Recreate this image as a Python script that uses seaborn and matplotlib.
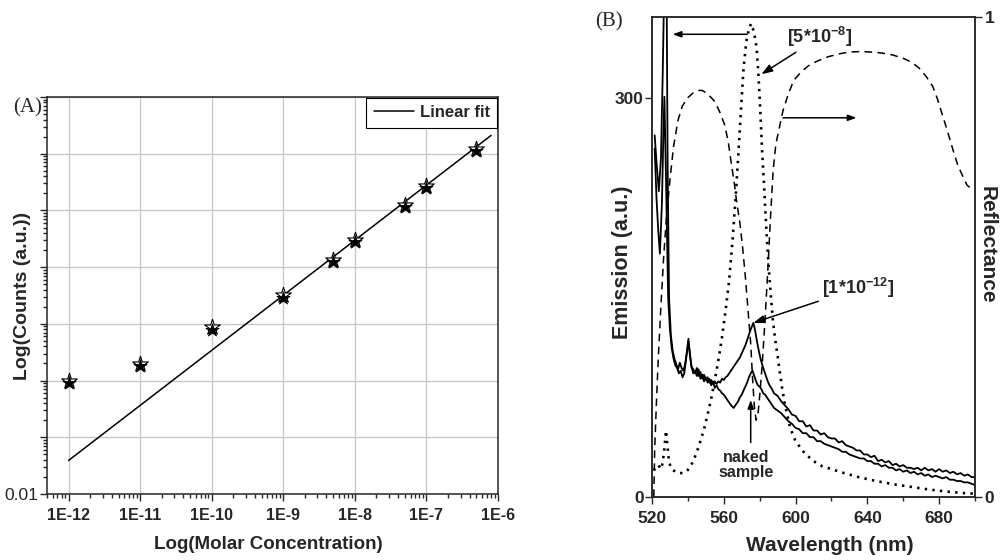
import numpy as np
import pandas as pd
import matplotlib
matplotlib.use("Agg")
import matplotlib.pyplot as plt
import matplotlib.ticker as mticker
from matplotlib.lines import Line2D
from matplotlib.transforms import offset_copy
import seaborn as sns

# ---- panel A: log-log kalibrering ----
conc = [1e-12, 1e-11, 1e-10, 1e-9, 5e-9, 1e-8, 5e-8, 1e-7, 5e-7]
counts = [1.0, 1.96, 8.7, 32, 136, 302, 1270, 2700, 12300]
fit_conc = [1e-12, 8e-7]
fit_counts = [0.039, 21000]
conc_ticks = [1e-12, 1e-11, 1e-10, 1e-9, 1e-8, 1e-7, 1e-6]

# ---- panel B: spektra ----
wl_low = [521.5, 522.5, 523.8, 525, 526, 527, 528, 528.7, 529.5, 530.5, 531.5, 532.5, 533.5,
          534.5, 535.5, 536.5, 537.5, 538.5, 539.3, 540.3, 541.2, 542, 543, 544, 545, 546, 547,
          548, 549, 550, 551, 552, 553, 554, 555, 556, 557, 558, 559, 560, 561, 562, 563, 564,
          565, 566, 567, 568, 569, 570, 571, 572, 573, 574, 575, 576.5, 577.5, 578.5, 579.5,
          580.5, 581.5, 582.5, 583.5, 584.5, 585.5, 586.5, 588,
          590, 592, 594, 596, 598, 600, 602, 604, 606, 608, 610, 612, 614, 616, 618, 620, 622,
          624, 626, 628, 630, 632, 634, 636, 638, 640, 642, 644, 646, 648, 650, 652, 654, 656,
          658, 660, 662, 664, 666, 668, 670, 672, 674, 676, 678, 680, 682, 684, 686, 688, 690,
          692, 694, 696, 698, 700]
em_low = [272, 252, 230, 255, 320, 400, 420, 250, 150, 122, 110, 104, 100,
          96, 101, 97, 95, 100, 108, 119, 106, 98, 96, 93, 97, 91, 94,
          89, 92, 88, 90, 86, 88, 85, 87, 85, 87, 86, 89, 88, 90, 91, 93, 95,
          97, 99, 101, 103, 105, 108, 111, 114, 118, 122, 126, 131, 125, 117, 110,
          104, 99, 95, 91, 87, 84, 82, 78,
          76, 72, 69, 66, 62, 61, 57, 57, 53, 54, 50, 50, 47, 48, 45, 44, 44,
          41, 42, 39, 38, 37, 35, 35, 32, 32, 30, 31, 27, 28, 26, 27, 24, 25,
          23, 24, 22, 22, 21, 22, 20, 22, 20, 21, 19, 21, 19, 20, 18, 19, 17,
          18, 16, 17, 15, 15]

wl_naked = [521.5, 522.5, 523.5, 524.4, 525.5, 526.3, 526.9, 527.8, 529, 530, 531, 532, 533,
            534, 535, 536, 537, 538, 539, 540.3, 541.2, 542, 543, 544, 545, 546, 547, 548,
            549, 550, 551, 552, 553, 554, 555, 556, 557, 558, 559, 560, 561, 562, 563, 564,
            565.5, 567, 568, 569, 570, 571, 572, 573, 574, 575, 576, 577, 578, 579, 580, 581,
            582, 583, 584, 585, 586, 587, 588,
            590, 592, 594, 596, 598, 600, 602, 604, 606, 608, 610, 612, 614, 616, 618, 620, 622,
            624, 626, 628, 630, 632, 634, 636, 638, 640, 642, 644, 646, 648, 650, 652, 654, 656,
            658, 660, 662, 664, 666, 668, 670, 672, 674, 676, 678, 680, 682, 684, 686, 688, 690,
            692, 694, 696, 698, 700]
em_naked = [262, 225, 200, 183, 220, 270, 301, 240, 150, 126, 112, 104, 99,
            97, 93, 95, 90, 93, 104, 117, 107, 98, 93, 95, 91, 96, 89, 92,
            87, 90, 86, 89, 84, 87, 82, 84, 81, 80, 78, 77, 75, 73, 71, 69,
            67, 70, 72, 75, 77, 80, 83, 86, 90, 93, 95, 91, 87, 84, 83, 81,
            78, 77, 75, 73, 71, 69, 67,
            65, 63, 60, 57, 55, 52, 51, 48, 48, 45, 45, 42, 42, 40, 39, 38, 37,
            36, 34, 34, 32, 31, 30, 29, 29, 27, 27, 25, 25, 23, 24, 22, 22, 20,
            21, 19, 20, 18, 19, 17, 18, 16, 17, 15, 16, 15, 14, 15, 13, 13, 12,
            12, 11, 11, 10, 9]

wl_high = [521, 522, 523, 524, 525, 526, 527, 527.8, 528.5, 529.5, 531, 533, 535, 537, 539,
           541, 543, 545, 547, 549, 551, 553, 555, 557, 559, 561, 563, 565, 567, 569, 571,
           572.5, 574, 575.2, 576.3, 577.3, 578.3, 579.3, 580.3, 581.3, 582.3, 583.3, 584.3,
           585.3, 586.3, 587.3, 588.5, 589.8, 591, 592.5, 594, 597, 600, 605, 610, 615, 620,
           627, 635, 645, 655, 665, 675, 685, 693, 700]
em_high = [20, 22, 24, 23, 21, 26, 38, 50, 40, 26, 21, 19, 18, 18, 19,
           22, 27, 34, 42, 51, 62, 74, 88, 103, 120, 140, 163, 195, 233, 278, 322,
           342, 352, 356, 352, 346, 338, 318, 292, 262, 238, 212, 188,
           168, 150, 134, 120, 108, 96, 82, 70, 52, 42, 33, 27, 23, 21,
           18, 15, 12, 9.5, 7.5, 5.5, 4, 3, 2.5]

wl_refl = [521, 521.5, 522.5, 523.5, 525, 526.5, 528, 530, 532, 534.5, 537, 540, 543, 546, 548,
           551, 555, 558, 560.5, 562.5, 564, 566, 567, 569, 570.5, 572, 573.5, 575, 576, 577,
           578, 579, 580, 581.5, 583, 584.5, 586, 587.5, 589, 591, 593, 596, 599, 603, 607,
           612, 618, 624, 630, 636, 642, 648, 654, 660, 665, 669, 673, 676.5, 679, 681.5,
           684, 686, 688, 690.5, 693, 695.5, 697]
refl = [0.0, 0.10, 0.20, 0.29, 0.40, 0.50, 0.58, 0.66, 0.73, 0.785, 0.815, 0.832, 0.842, 0.847,
        0.847, 0.840, 0.824, 0.80, 0.775, 0.74, 0.70, 0.65, 0.62, 0.57, 0.52, 0.46, 0.39, 0.32,
        0.25, 0.19, 0.16, 0.17, 0.21, 0.28, 0.37, 0.47, 0.58, 0.68, 0.735, 0.77, 0.805, 0.84,
        0.868, 0.885, 0.898, 0.908, 0.917, 0.923, 0.927, 0.928, 0.927, 0.925, 0.921, 0.914,
        0.905, 0.893, 0.875, 0.855, 0.83, 0.80, 0.77, 0.745, 0.72, 0.69, 0.67, 0.65, 0.645]

sns.set_style("ticks")
plt.rcParams["font.family"] = ["Liberation Sans", "DejaVu Sans"]
plt.rcParams["mathtext.fontset"] = "custom"
plt.rcParams["mathtext.rm"] = "Liberation Sans:bold"
plt.rcParams["mathtext.bf"] = "Liberation Sans:bold"
plt.rcParams["mathtext.default"] = "bf"

fig = plt.figure(figsize=(10.01, 5.6), dpi=100)

# ================= panel A =================
axA = fig.add_axes([47 / 1001, 1 - 494 / 560, 451 / 1001, 397 / 560])
axA.set_xscale("log")
axA.set_yscale("log")
axA.set_xlim(5e-13, 1e-6)
axA.set_ylim(0.01, 1e5)
axA.grid(True, which="major", color="#c8c8c8", lw=1)
axA.set_axisbelow(True)

dfA = pd.DataFrame({"conc": conc, "counts": counts})
dfFit = pd.DataFrame({"conc": fit_conc, "counts": fit_counts})
sns.lineplot(data=dfFit, x="conc", y="counts", ax=axA, color="k", lw=1.1,
             estimator=None, sort=False)
sns.scatterplot(data=dfA, x="conc", y="counts", ax=axA, marker="*", s=140,
                color="white", edgecolor="k", linewidth=0.8, zorder=3)
sns.scatterplot(data=dfA, x="conc", y="counts", ax=axA, marker="*", s=100,
                color="k", edgecolor="k", linewidth=0.5, zorder=4,
                transform=offset_copy(axA.transData, fig=fig, x=0, y=-2.5, units="dots"))

axA.xaxis.set_major_locator(mticker.FixedLocator(conc_ticks))
axA.xaxis.set_major_formatter(mticker.FuncFormatter(lambda v, p: "1E%d" % round(np.log10(v))))
axA.xaxis.set_minor_locator(mticker.LogLocator(base=10, subs=np.arange(2, 10), numticks=20))
axA.xaxis.set_minor_formatter(mticker.NullFormatter())
axA.yaxis.set_major_locator(mticker.LogLocator(base=10, numticks=20))
axA.yaxis.set_major_formatter(mticker.FuncFormatter(lambda v, p: "0.01" if abs(v - 0.01) < 1e-9 else ""))
axA.yaxis.set_minor_locator(mticker.LogLocator(base=10, subs=np.arange(2, 10), numticks=20))
axA.yaxis.set_minor_formatter(mticker.NullFormatter())
axA.tick_params(which="both", direction="out", top=False, right=False, width=1)
axA.tick_params(which="major", length=5)
axA.tick_params(which="minor", length=3)
axA.tick_params(axis="x", which="major", labelsize=11.5, pad=5)
axA.tick_params(axis="y", which="major", labelsize=12.5, pad=1)
for lab in axA.get_xticklabels():
    lab.set_fontweight("bold")
for sp in axA.spines.values():
    sp.set_linewidth(1.1)

axA.set_xlabel("Log(Molar Concentration)", fontsize=13.5, fontweight="bold")
axA.set_ylabel("Log(Counts (a.u.))", fontsize=14, fontweight="bold")
axA.xaxis.set_label_coords(0.49, -0.106)
axA.yaxis.set_label_coords(-0.035, 0.5)

leg = axA.legend(handles=[Line2D([], [], color="k", lw=1.1)], labels=["Linear fit"],
                 loc="upper right", borderaxespad=0.05, fancybox=False, edgecolor="k",
                 framealpha=1, handlelength=2.4, handletextpad=0.35, borderpad=0.45,
                 prop={"weight": "bold", "size": 12})
leg.get_frame().set_linewidth(0.8)

fig.text(13 / 1001, 1 - 108 / 560, "(A)", family="Liberation Serif", fontsize=15, va="center")

# ================= panel B =================
axB = fig.add_axes([652 / 1001, 1 - 497 / 560, 323 / 1001, 480 / 560])
axB.set_xlim(520, 700)
axB.set_ylim(0, 361)

sns.lineplot(x=wl_low, y=em_low, ax=axB, color="k", lw=1.3, estimator=None, sort=False)
sns.lineplot(x=wl_naked, y=em_naked, ax=axB, color="k", lw=1.3, estimator=None, sort=False)
sns.lineplot(x=wl_high, y=em_high, ax=axB, color="k", lw=1.9, estimator=None, sort=False,
             linestyle=(0, (0.9, 2.0)))

axR = axB.twinx()
axR.set_ylim(0, 1)
sns.lineplot(x=wl_refl, y=refl, ax=axR, color="k", lw=1.1, estimator=None, sort=False,
             linestyle=(0, (5, 3.5)))

axB.xaxis.set_major_locator(mticker.MultipleLocator(40))
axB.xaxis.set_minor_locator(mticker.MultipleLocator(20))
axB.yaxis.set_major_locator(mticker.FixedLocator([0, 300]))
axR.yaxis.set_major_locator(mticker.FixedLocator([0, 1]))
axR.yaxis.set_major_formatter(mticker.FuncFormatter(lambda v, p: "%d" % v))
axB.tick_params(which="both", direction="out", top=False, width=1)
axB.tick_params(which="major", length=5, labelsize=12.5)
axB.tick_params(which="minor", length=3)
axB.tick_params(axis="x", pad=5)
axB.tick_params(axis="y", pad=1)
axR.tick_params(direction="out", length=5, width=1, labelsize=12.5, pad=2)
for lab in axB.get_xticklabels() + axB.get_yticklabels() + axR.get_yticklabels():
    lab.set_fontweight("bold")
for sp in list(axB.spines.values()) + list(axR.spines.values()):
    sp.set_linewidth(1.1)

axB.set_xlabel("Wavelength (nm)", fontsize=15, fontweight="bold")
axB.set_ylabel("Emission (a.u.)", fontsize=15.5, fontweight="bold")
axR.set_ylabel("Reflectance", fontsize=15, fontweight="bold", rotation=270)
axB.xaxis.set_label_coords(0.55, -0.081)
axB.yaxis.set_label_coords(-0.059, 0.49)
axR.yaxis.set_label_coords(1.068, 0.525)

arrow = dict(arrowstyle="-|>,head_length=0.5,head_width=0.18", color="k", lw=1.1,
             shrinkA=0, shrinkB=0)
axB.annotate("", xy=(531.5, 348), xytext=(573, 348), arrowprops=arrow)
axR.annotate("", xy=(634, 0.79), xytext=(593, 0.79), arrowprops=arrow)
axB.annotate("[5*10$^{-8}$]", xy=(581, 318), xytext=(595.5, 346), fontsize=13,
             fontweight="bold", va="center", ha="left", arrowprops=arrow)
axB.annotate("[1*10$^{-12}$]", xy=(576.5, 131), xytext=(614.5, 157), fontsize=13,
             fontweight="bold", va="center", ha="left", arrowprops=arrow)
axB.annotate("", xy=(575, 73), xytext=(575, 41), arrowprops=arrow)
axB.text(572.5, 24, "naked\nsample", fontsize=11.5, fontweight="bold", ha="center",
         va="center", linespacing=1.05)

fig.text(595 / 1001, 1 - 22 / 560, "(B)", family="Liberation Serif", fontsize=15, va="center")

fig.savefig("out.png", dpi=100)
